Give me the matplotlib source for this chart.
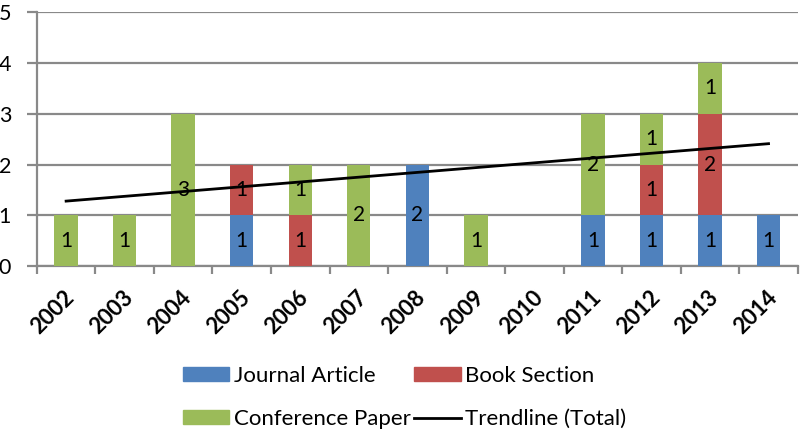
import matplotlib
matplotlib.use("Agg")
import matplotlib.pyplot as plt
from matplotlib.lines import Line2D
from matplotlib.patches import Patch
import numpy as np

years = ["2002", "2003", "2004", "2005", "2006", "2007", "2008",
         "2009", "2010", "2011", "2012", "2013", "2014"]
journal = [0, 0, 0, 1, 0, 0, 2, 0, 0, 1, 1, 1, 1]
book = [0, 0, 0, 1, 1, 0, 0, 0, 0, 0, 1, 2, 0]
conference = [1, 1, 3, 0, 1, 2, 0, 1, 0, 2, 1, 1, 0]
# Linear trend of yearly totals, value at first and last year
trend_ends = [1.28, 2.41]
y_ticks = [0, 1, 2, 3, 4, 5]

plt.rcParams["font.family"] = ["Lato", "DejaVu Sans"]

c_journal = "#4F81BD"
c_book = "#C0504D"
c_conf = "#9BBB59"
grid_c = "#898989"

fig = plt.figure(figsize=(8.01, 4.30), dpi=100)
ax = fig.add_axes([0.046, 0.381, 0.950, 0.591])

x = np.arange(len(years))
w = 0.40
series = [(journal, c_journal), (book, c_book), (conference, c_conf)]
bottom = np.zeros(len(years))
for vals, col in series:
    vals = np.array(vals, dtype=float)
    ax.bar(x, vals, w, bottom=bottom, color=col, zorder=3, linewidth=0)
    for xi, v, b in zip(x, vals, bottom):
        if v > 0:
            ax.text(xi, b + v / 2, f"{int(v)}", ha="center", va="center",
                    fontsize=15, color="black", zorder=5)
    bottom += vals

ax.plot([x[0], x[-1]], trend_ends, color="black", lw=2, zorder=4)

ax.set_xlim(-0.5, len(years) - 0.5)
ax.set_ylim(0, 5)
ax.set_yticks(y_ticks)
ax.set_yticklabels([str(t) for t in y_ticks], fontsize=15.5)
ax.yaxis.grid(True, color=grid_c, lw=1.6, zorder=0)
ax.set_axisbelow(True)

# category boundaries get tick marks, years are drawn as rotated text
ax.set_xticks(np.arange(-0.5, len(years)))
ax.set_xticklabels([])
ax.tick_params(axis="x", length=6, width=1.6, color=grid_c)
ax.tick_params(axis="y", length=7.5, width=1.6, color=grid_c, pad=11)
for xi, yr in zip(x, years):
    ax.annotate(yr, xy=(xi, 0), xycoords=("data", "axes fraction"),
                xytext=(5, -28), textcoords="offset pixels",
                rotation=45, ha="right", va="center", rotation_mode="anchor",
                fontsize=16, fontweight="bold", annotation_clip=False)

for s in ["top", "right"]:
    ax.spines[s].set_visible(False)
for s in ["left", "bottom"]:
    ax.spines[s].set_color(grid_c)
    ax.spines[s].set_linewidth(1.6)

handles = [Patch(color=c_journal), Patch(color=c_conf),
           Patch(color=c_book), Line2D([], [], color="black", lw=2)]
names = ["Journal Article", "Conference Paper", "Book Section", "Trendline (Total)"]
fig.legend(handles, names, ncol=2, loc="center", bbox_to_anchor=(0.505, 0.076),
           frameon=False, fontsize=16, handlelength=2.1, handleheight=0.6,
           handletextpad=0.2, columnspacing=0.15, labelspacing=1.05)

fig.savefig("out.png", dpi=100)
